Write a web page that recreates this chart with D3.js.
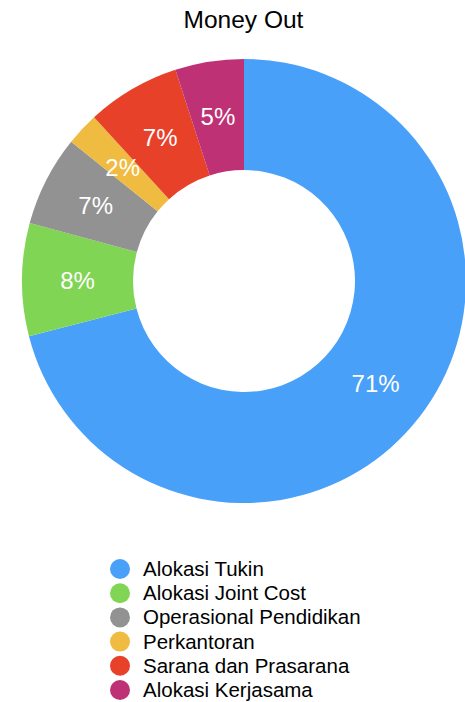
<!DOCTYPE html>
<html><head><meta charset="utf-8">
<script src="https://cdn.jsdelivr.net/npm/d3@7"></script>
<style>html,body{margin:0;padding:0;background:#fff;overflow:hidden}</style>
</head><body>
<svg id="chart" width="465" height="702"></svg>
<script>
const categories = ["Alokasi Tukin","Alokasi Joint Cost","Operasional Pendidikan","Perkantoran","Sarana dan Prasarana","Alokasi Kerjasama"];
const values = [71.0, 8.2, 6.6, 2.4, 6.8, 5.0];
const labels = ["71%","8%","7%","2%","7%","5%"];
const colors = ["#49a0f8","#80d554","#929292","#efbb41","#e8412a","#be3275"];
const title = "Money Out";

const svg = d3.select("#chart");
const font = "'Liberation Sans', Arial, Helvetica, sans-serif";
const cx = 244, cy = 281, R = 222, r = 111;

svg.append("text").attr("x", 243.5).attr("y", 28).attr("text-anchor","middle")
  .attr("font-family", font).attr("font-size", 24.5).attr("fill","#000").text(title);

const data = categories.map((c,i)=>({name:c, value:values[i], label:labels[i], color:colors[i]}));
const pie = d3.pie().value(d=>d.value).sort(null);
const arc = d3.arc().innerRadius(r).outerRadius(R);
const arcs = pie(data);
const g = svg.append("g").attr("transform", `translate(${cx},${cy})`);
g.selectAll("path").data(arcs).join("path").attr("d", arc).attr("fill", d=>d.data.color);
g.selectAll("text").data(arcs).join("text")
  .attr("transform", d=>`translate(${arc.centroid(d)})`)
  .attr("text-anchor","middle").attr("dy","0.36em")
  .attr("font-family", font).attr("font-size", 24).attr("fill","#fff")
  .text(d=>d.data.label);

const leg = svg.append("g");
const y0 = 569, step = 24.2;
data.forEach((d,i)=>{
  leg.append("circle").attr("cx",120).attr("cy",y0+i*step).attr("r",10).attr("fill",d.color);
  leg.append("text").attr("x",143).attr("y",y0+i*step+7).attr("font-family",font)
    .attr("font-size",20.5).attr("fill","#000").text(d.name);
});
</script>
</body></html>
